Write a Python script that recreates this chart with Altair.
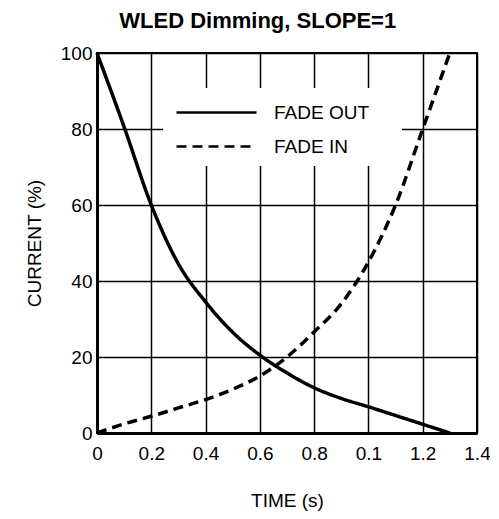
import altair as alt
import pandas as pd

# ---- data ----
time_s = [0.0, 0.1, 0.2, 0.3, 0.4, 0.5, 0.6, 0.7, 0.8, 0.9, 1.0, 1.1, 1.2, 1.3]
fade_out = [100, 80.5, 60, 44.5, 34.5, 26.5, 20.5, 15.8, 11.9, 9.1, 6.9, 4.6, 2.3, 0]
fade_in = [0, 2.4, 4.4, 6.6, 8.8, 11.5, 15, 20, 26.6, 34, 45, 60, 80, 100]

series_names = ["FADE OUT", "FADE IN"]
x_ticks = [0, 0.2, 0.4, 0.6, 0.8, 1.0, 1.2, 1.4]
y_ticks = [0, 20, 40, 60, 80, 100]

rows = []
for t, v in zip(time_s, fade_out):
    rows.append({"time": t, "current": v, "series": "FADE OUT"})
for t, v in zip(time_s, fade_in):
    rows.append({"time": t, "current": v, "series": "FADE IN"})
df = pd.DataFrame(rows)

FONT = "Liberation Sans"

label_expr = ("datum.value == 0 ? '0' : (abs(datum.value - 1) < 0.001 ? '0.1' : format(datum.value, '.1f'))")

x_axis = alt.Axis(
    values=x_ticks, labelExpr=label_expr, title="TIME (s)", grid=True,
    ticks=False, labelPadding=11, titlePadding=28, labelFlush=False,
)
y_axis = alt.Axis(
    values=y_ticks, title="CURRENT (%)", grid=True, ticks=False,
    labelPadding=5, titlePadding=16, labelFlush=False,
)

legend_box = alt.Chart(pd.DataFrame({"k": [0]})).mark_rect(fill="white").encode(
    x=alt.value(66), x2=alt.value(305), y=alt.value(35), y2=alt.value(113)
)

lines = alt.Chart(df).mark_line(
    color="black", strokeWidth=3.5, interpolate="monotone"
).encode(
    x=alt.X("time:Q", scale=alt.Scale(domain=[0, 1.4], nice=False, zero=False), axis=x_axis),
    y=alt.Y("current:Q", scale=alt.Scale(domain=[0, 100], nice=False), axis=y_axis),
    strokeDash=alt.StrokeDash(
        "series:N",
        scale=alt.Scale(domain=series_names, range=[[1, 0], [10, 6]]),
        legend=alt.Legend(
            title=None, orient="none", legendX=108, legendY=48,
            symbolType="M-4,0H4", symbolSize=400, symbolStrokeWidth=2.5,
            symbolStrokeColor="black", symbolFillColor="transparent",
            labelOffset=46, rowPadding=12,
            labelFontSize=19, labelFont=FONT, labelColor="black", padding=0,
        ),
    ),
    detail="series:N",
)

chart = alt.layer(legend_box, lines).properties(
    width=380, height=380,
    autosize=alt.AutoSizeParams(type="none"),
    padding={"left": 89, "top": 45, "right": 13, "bottom": 78},
    title=alt.TitleParams(
        "WLED Dimming, SLOPE=1", fontSize=22, fontWeight="bold", font=FONT,
        anchor="middle", frame="bounds", offset=11, color="black",
    ),
).configure_view(
    stroke="black", strokeWidth=2
).configure_axis(
    domainColor="black", domainWidth=3, gridColor="black", gridWidth=1.5,
    gridOpacity=1, labelFont=FONT, labelFontSize=19, labelColor="black",
    titleFont=FONT, titleFontSize=19, titleFontWeight="normal", titleColor="black",
)

chart.save("out.html", embed_options={"renderer": "svg", "actions": False})
